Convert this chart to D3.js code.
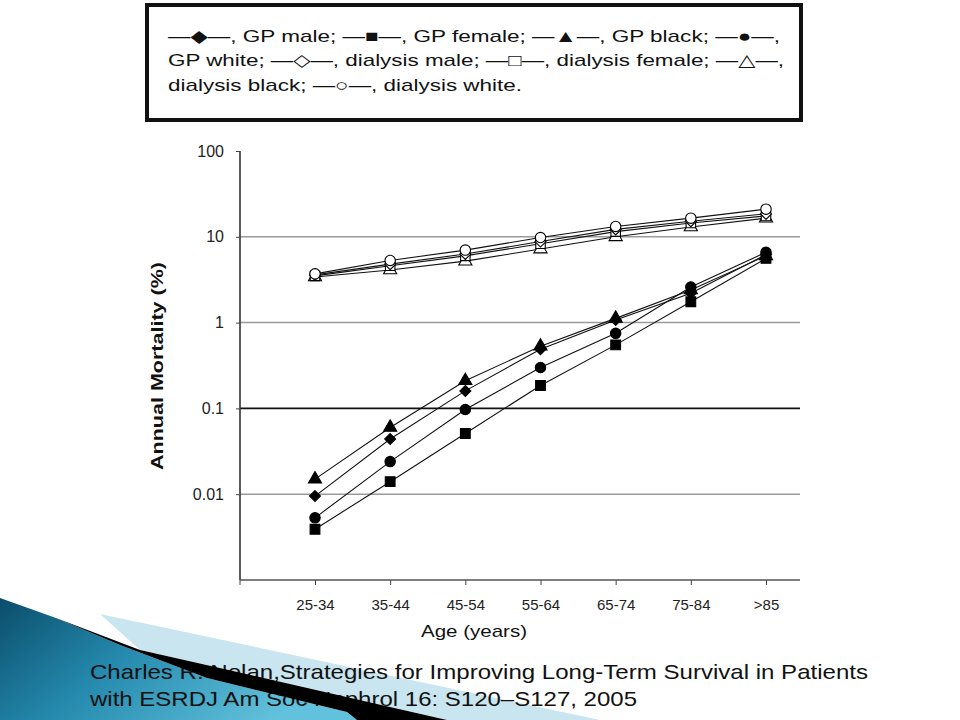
<!DOCTYPE html>
<html>
<head>
<meta charset="utf-8">
<script src="https://cdn.jsdelivr.net/npm/d3@7"></script>
<style>
html,body{margin:0;padding:0;background:#fff;}
svg{display:block;font-family:"Liberation Sans",Arial,sans-serif;}
</style>
</head>
<body>
<svg id="chart" width="960" height="720"></svg>
<script>
// ---- data ----
const ageGroups = ["25-34","35-44","45-54","55-64","65-74","75-84",">85"];
const yTicks = [0.01, 0.1, 1, 10, 100];
const yTickLabels = ["0.01","0.1","1","10","100"];

const gpMale      = [0.0095, 0.044, 0.16, 0.49, 1.07, 2.2, 6.2];
const gpFemale    = [0.0039, 0.014, 0.051, 0.185, 0.55, 1.75, 5.6];
const gpBlack     = [0.015, 0.060, 0.21, 0.53, 1.12, 2.4, 6.0];
const gpWhite     = [0.0053, 0.024, 0.097, 0.30, 0.75, 2.6, 6.6];
const dialMale    = [3.6, 4.8, 6.3, 8.8, 12.2, 15.2, 18.5];
const dialFemale  = [3.5, 4.6, 6.0, 8.3, 11.5, 14.5, 17.5];
const dialBlack   = [3.4, 4.1, 5.2, 7.2, 10.0, 13.0, 16.5];
const dialWhite   = [3.7, 5.3, 7.0, 9.8, 13.2, 16.5, 21.0];

const legendLines = [
  "\u2014\u25C6\u2014, GP male; \u2014\u25A0\u2014, GP female; \u2014\u25B2\u2014, GP black; \u2014\u25CF\u2014,",
  "GP white; \u2014\u25C7\u2014, dialysis male; \u2014\u25A1\u2014, dialysis female; \u2014\u25B3\u2014,",
  "dialysis black; \u2014\u25CB\u2014, dialysis white."
];
const citationLines = [
  "Charles R. Nolan,Strategies for Improving Long-Term Survival in Patients",
  "with ESRDJ Am Soc Nephrol 16: S120\u2013S127, 2005"
];

// square-proportioned diamond
const symbolRhombus = {
  draw(ctx, size) {
    const r = Math.sqrt(size / 2);
    ctx.moveTo(0, -r); ctx.lineTo(r, 0); ctx.lineTo(0, r); ctx.lineTo(-r, 0); ctx.closePath();
  }
};

const series = [
  {name:"GP male", values:gpMale, symbol:symbolRhombus, size:60, fill:"#000"},
  {name:"GP female", values:gpFemale, symbol:d3.symbolSquare, size:95, fill:"#000"},
  {name:"GP black", values:gpBlack, symbol:d3.symbolTriangle, size:75, fill:"#000"},
  {name:"GP white", values:gpWhite, symbol:d3.symbolCircle, size:85, fill:"#000"},
  {name:"dialysis black", values:dialBlack, symbol:d3.symbolTriangle, size:75, fill:"#fff"},
  {name:"dialysis female", values:dialFemale, symbol:d3.symbolSquare, size:90, fill:"#fff"},
  {name:"dialysis male", values:dialMale, symbol:symbolRhombus, size:60, fill:"#fff"},
  {name:"dialysis white", values:dialWhite, symbol:d3.symbolCircle, size:85, fill:"#fff"}
];

const svg = d3.select("#chart");

// ---- decoration (slide template) ----
const defs = svg.append("defs");
const grad = defs.append("linearGradient").attr("id","teal")
  .attr("x1","0").attr("y1","0").attr("x2","1").attr("y2","0.4");
grad.append("stop").attr("offset","0").attr("stop-color","#0b4d6a");
grad.append("stop").attr("offset","0.45").attr("stop-color","#2489ad");
grad.append("stop").attr("offset","1").attr("stop-color","#62c1dc");

svg.append("polygon").attr("points","100,614 600,720 447,720 390,707 233,671 140,650").attr("fill","#c9e5ef");
svg.append("polygon").attr("points","0,598 56,618 120,645 207,678 347,712 357,720 0,720").attr("fill","url(#teal)");

// ---- scales ----
const x = d3.scalePoint().domain(ageGroups).range([315, 766]);
const y = d3.scaleLog().domain([0.001, 100]).range([580, 151]);
const plotLeft = 240, plotRight = 800;

// gridlines
svg.append("g").selectAll("line").data([10, 1, 0.1, 0.01]).join("line")
  .attr("x1", plotLeft).attr("x2", plotRight)
  .attr("y1", d => y(d)).attr("y2", d => y(d))
  .attr("stroke", d => d === 0.1 ? "#111" : "#9a9a9a")
  .attr("stroke-width", d => d === 0.1 ? 1.8 : 1.5);

// y axis
const yAxis = d3.axisLeft(y).tickValues(yTicks)
  .tickFormat((d,i) => yTickLabels[i]).tickSize(4).tickPadding(12);
const gy = svg.append("g").attr("transform", `translate(${plotLeft},0)`).call(yAxis);
gy.select(".domain").attr("stroke","#333").attr("stroke-width",1.6).attr("d","M0,151V580");
gy.selectAll(".tick line").attr("stroke","#444");
gy.selectAll(".tick text").attr("font-size",16).attr("fill","#222")
  .attr("font-family","'Liberation Sans',Arial,sans-serif");

// x axis
const xAxis = d3.axisBottom(x).tickSize(5).tickPadding(14);
const gx = svg.append("g").attr("transform","translate(0,580)").call(xAxis);
gx.select(".domain").attr("stroke","#555").attr("stroke-width",1.6).attr("d",`M${plotLeft},0H${plotRight}`);
gx.selectAll(".tick line").attr("stroke","#444");
gx.selectAll(".tick text").attr("font-size",15).attr("fill","#222")
  .attr("font-family","'Liberation Sans',Arial,sans-serif");
svg.append("line").attr("x1",plotLeft).attr("x2",plotLeft).attr("y1",580).attr("y2",585).attr("stroke","#444");

// axis titles
svg.append("text").attr("transform","translate(163,366) rotate(-90)")
  .attr("text-anchor","middle").attr("font-weight","bold").attr("font-size",17)
  .attr("textLength",208).attr("lengthAdjust","spacingAndGlyphs").attr("fill","#111")
  .text("Annual Mortality (%)");
svg.append("text").attr("x",474).attr("y",637)
  .attr("text-anchor","middle").attr("font-size",17).attr("fill","#111")
  .attr("textLength",106).attr("lengthAdjust","spacingAndGlyphs")
  .text("Age (years)");

// lines & markers
const line = d3.line().x((d,i) => x(ageGroups[i])).y(d => y(d));
const gs = svg.append("g").selectAll("g").data(series).join("g");
gs.append("path").attr("d", d => line(d.values))
  .attr("fill","none").attr("stroke","#111").attr("stroke-width",1.1);
gs.each(function(s){
  d3.select(this).selectAll("path.mk").data(s.values).join("path").attr("class","mk")
    .attr("transform",(d,i) => `translate(${x(ageGroups[i])},${y(d)})`)
    .attr("d", d3.symbol().type(s.symbol).size(s.size))
    .attr("fill", s.fill).attr("stroke","#000").attr("stroke-width",1.1);
});

// legend box
svg.append("rect").attr("x",147).attr("y",5).attr("width",654).attr("height",115)
  .attr("fill","#fff").attr("stroke","#111").attr("stroke-width",4);
const legendY = [42, 66, 91];
const legendW = [612, 616, 354];
svg.append("g").selectAll("text").data(legendLines).join("text")
  .attr("x",168).attr("y",(d,i) => legendY[i])
  .attr("font-size",17).attr("fill","#111")
  .attr("font-family","'Liberation Sans','DejaVu Sans',Arial,sans-serif")
  .attr("textLength",(d,i) => legendW[i]).attr("lengthAdjust","spacingAndGlyphs")
  .text(d => d);

// citation
const citY = [679, 706];
const citW = [778, 547];
svg.append("g").selectAll("text").data(citationLines).join("text")
  .attr("x",90).attr("y",(d,i) => citY[i])
  .attr("font-size",21).attr("fill","#111")
  .attr("textLength",(d,i) => citW[i]).attr("lengthAdjust","spacingAndGlyphs")
  .text(d => d);

// black band of the template (drawn over the text as in the slide)
svg.append("polygon")
  .attr("points","56,618 140,650 233,671 390,707 447,720 357,720 347,712 207,678 120,645")
  .attr("fill","#000");
</script>
</body>
</html>
